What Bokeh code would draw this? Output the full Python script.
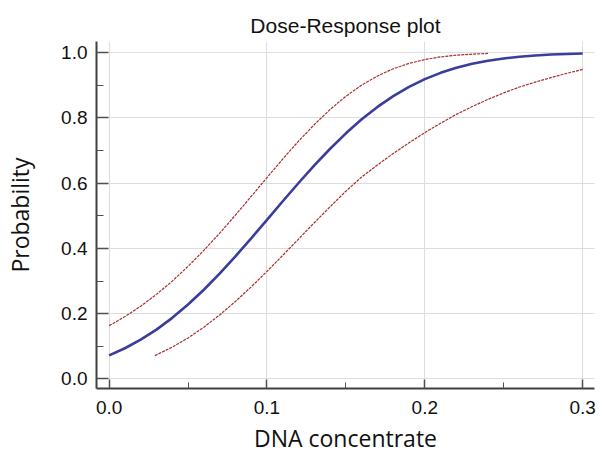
from bokeh.plotting import figure
from bokeh.models import Range1d, FixedTicker
from bokeh.embed import file_html
from bokeh.resources import INLINE

# Dose values (DNA concentrate)
dose = [0.00, 0.01, 0.02, 0.03, 0.04, 0.05, 0.06, 0.07, 0.08, 0.09, 0.10,
        0.11, 0.12, 0.13, 0.14, 0.15, 0.16, 0.17, 0.18, 0.19, 0.20,
        0.21, 0.22, 0.23, 0.24, 0.25, 0.26, 0.27, 0.28, 0.29, 0.30]
prob = [0.0720, 0.0938, 0.1200, 0.1510, 0.1870, 0.2278, 0.2732, 0.3228, 0.3756, 0.4309, 0.4876,
        0.5446, 0.6006, 0.6547, 0.7057, 0.7530, 0.7959, 0.8340, 0.8671, 0.8954, 0.9191,
        0.9385, 0.9540, 0.9662, 0.9756, 0.9827, 0.9880, 0.9918, 0.9945, 0.9964, 0.9977]

upper_dose = [0.00, 0.01, 0.02, 0.03, 0.04, 0.05, 0.06, 0.07, 0.08, 0.09, 0.10,
              0.11, 0.12, 0.13, 0.14, 0.15, 0.16, 0.17, 0.18, 0.19, 0.20,
              0.21, 0.22, 0.23, 0.24]
upper = [0.1631, 0.1909, 0.2228, 0.2590, 0.2997, 0.3448, 0.3939, 0.4466, 0.5021, 0.5593, 0.6171,
         0.6741, 0.7288, 0.7799, 0.8261, 0.8666, 0.9009, 0.9289, 0.9509, 0.9674, 0.9792,
         0.9874, 0.9927, 0.9960, 0.9979]

lower_dose = [0.029, 0.04, 0.05, 0.06, 0.07, 0.08, 0.09, 0.10,
              0.11, 0.12, 0.13, 0.14, 0.15, 0.16, 0.17, 0.18, 0.19, 0.20,
              0.21, 0.22, 0.23, 0.24, 0.25, 0.26, 0.27, 0.28, 0.29, 0.30]
lower = [0.0711, 0.0970, 0.1254, 0.1584, 0.1958, 0.2372, 0.2820, 0.3295,
         0.3787, 0.4287, 0.4788, 0.5279, 0.5755, 0.6190, 0.6560, 0.6910, 0.7240, 0.7550,
         0.7840, 0.8110, 0.8350, 0.8570, 0.8770, 0.8950, 0.9100, 0.9240, 0.9370, 0.9490]

x_ticks = [0.0, 0.1, 0.2, 0.3]
x_tick_labels = ["0.0", "0.1", "0.2", "0.3"]
x_minor = [0.05, 0.15, 0.25]
y_ticks = [0.0, 0.2, 0.4, 0.6, 0.8, 1.0]
y_tick_labels = ["0.0", "0.2", "0.4", "0.6", "0.8", "1.0"]
y_minor = [0.1, 0.3, 0.5, 0.7, 0.9]
x_title = "DNA concentrate"
y_title = "Probability"

p = figure(width=604, height=456, output_backend="svg", toolbar_location=None,
           title="Dose-Response plot",
           x_range=Range1d(-0.008, 0.3075), y_range=Range1d(-0.0297, 1.0346),
           min_border_left=96, min_border_right=10, min_border_top=41, min_border_bottom=67)
p.outline_line_color = None
p.background_fill_color = "white"
p.border_fill_color = "white"

p.title.text_font = "Liberation Sans"
p.title.text_font_size = "21px"
p.title.text_font_style = "normal"
p.title.text_color = "#111111"
p.title.align = "center"

p.xaxis.ticker = FixedTicker(ticks=x_ticks, minor_ticks=x_minor)
p.yaxis.ticker = FixedTicker(ticks=y_ticks, minor_ticks=y_minor)
p.xaxis.major_label_overrides = dict(zip(x_ticks, x_tick_labels))
p.yaxis.major_label_overrides = dict(zip(y_ticks, y_tick_labels))

for ax in (p.xaxis[0], p.yaxis[0]):
    ax.axis_line_color = "#404040"
    ax.axis_line_width = 2
    ax.major_tick_line_color = "#505050"
    ax.minor_tick_line_color = "#505050"
    ax.major_tick_line_width = 1.5
    ax.minor_tick_line_width = 1
    ax.major_tick_out = 0
    ax.minor_tick_out = 0
    ax.major_label_text_font = "Liberation Sans"
    ax.major_label_text_font_size = "19px"
    ax.major_label_text_color = "#111111"
    ax.axis_label_text_font = "Open Sans"
    ax.axis_label_text_font_size = "23px"
    ax.axis_label_text_font_style = "normal"
    ax.axis_label_text_color = "#111111"

p.xaxis.major_tick_in = 9
p.xaxis.minor_tick_in = 6
p.yaxis.major_tick_in = 12
p.yaxis.minor_tick_in = 7
p.xaxis.major_label_standoff = 12
p.yaxis.major_label_standoff = 9
p.xaxis.axis_label = x_title
p.yaxis.axis_label = y_title
p.xaxis.axis_label_standoff = 5
p.yaxis.axis_label_standoff = 22

p.grid.grid_line_color = "#dddddd"
p.grid.grid_line_width = 1

p.line(dose, prob, line_color="#3a3d9c", line_width=2.6)
p.line(upper_dose, upper, line_color="#a3302f", line_width=1.2, line_dash="3 1")
p.line(lower_dose, lower, line_color="#a3302f", line_width=1.2, line_dash="3 1")

open("out.html", "w").write(file_html(p, INLINE))
